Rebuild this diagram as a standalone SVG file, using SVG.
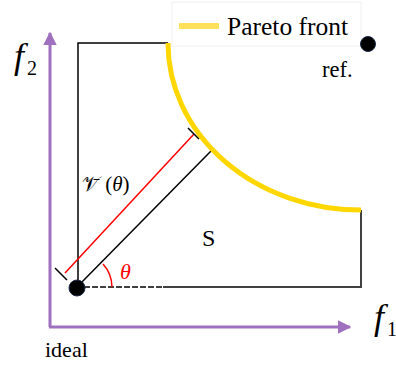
<svg xmlns="http://www.w3.org/2000/svg" width="396" height="366" viewBox="0 0 396 366">
  <defs>
    <style>
      .serif { font-family: "Liberation Serif", "DejaVu Serif", serif; fill: #000; }
      .math { font-family: "Liberation Serif", "DejaVu Serif", serif; font-style: italic; }
      .axis { stroke: #A070C0; stroke-width: 3; fill: none; }
      .box { stroke: #000; stroke-width: 1.5; fill: none; }
      .dot { fill: #000; stroke: #1a2a4a; stroke-width: 1; }
    </style>
    <marker id="arrowP" viewBox="0 0 10 10" refX="9" refY="5" markerWidth="4.5" markerHeight="4.5" orient="auto" markerUnits="strokeWidth">
      <path d="M0,0 L10,5 L0,10 z" fill="#A070C0"/>
    </marker>
  </defs>
  <rect width="396" height="366" fill="#fff"/>

  <g id="connectors">
    <!-- axes -->
    <line class="axis" x1="50" y1="327" x2="50" y2="33" marker-end="url(#arrowP)"/>
    <line class="axis" x1="49" y1="327" x2="350" y2="327" marker-end="url(#arrowP)"/>
    <!-- region boundary -->
    <polyline class="box" points="168,43 78,43 78,287"/>
    <line x1="361" y1="210" x2="361" y2="288" stroke="#000" stroke-width="1.5"/>
    <line x1="163" y1="287" x2="362" y2="287" stroke="#404040" stroke-width="2"/>
    <line x1="84" y1="287" x2="163" y2="287" stroke="#404040" stroke-width="2" stroke-dasharray="6,2"/>
    <!-- direction line -->
    <line x1="77" y1="287" x2="211" y2="151" stroke="#000" stroke-width="1.5"/>
    <!-- red measure line with end ticks -->
    <line x1="65" y1="273" x2="194" y2="134" stroke="#FF0000" stroke-width="1.5"/>
    <line x1="55" y1="268" x2="67" y2="280" stroke="#000" stroke-width="1.5"/>
    <line x1="188" y1="128" x2="199" y2="139" stroke="#000" stroke-width="1.5"/>
    <!-- angle arc -->
    <path d="M112,287 A35,35 0 0,0 103,264" fill="none" stroke="#FF0000" stroke-width="1.5"/>
  </g>

  <g id="pareto-front">
    <path d="M168,43 A193,167 0 0,0 361,210" fill="none" stroke="#FFD700" stroke-width="5"/>
  </g>

  <g id="legend">
    <rect x="172" y="2" width="189" height="44" fill="#fff" stroke="#f0f0f5" stroke-width="1"/>
    <line x1="179" y1="26" x2="219" y2="26" stroke="#FFE15C" stroke-width="6"/>
    <text class="serif" x="227" y="35" font-size="25.5">Pareto front</text>
  </g>

  <g id="ref-point">
    <circle class="dot" cx="368" cy="44" r="7.5"/>
    <text class="serif" x="322" y="77" font-size="22.5">ref.</text>
  </g>

  <g id="ideal-point">
    <circle class="dot" cx="77" cy="288" r="8"/>
    <text class="serif" x="45" y="357" font-size="22">ideal</text>
  </g>

  <g id="labels">
    <text x="14" y="68" font-size="36" class="math">f<tspan font-style="normal" font-size="20" dx="3" dy="7">2</tspan></text>
    <text x="374" y="329" font-size="36" class="math">f<tspan font-style="normal" font-size="20" dx="3" dy="7">1</tspan></text>
    <text class="serif" x="202" y="246" font-size="24">S</text>
    <text x="120" y="279" font-size="22" class="math" fill="#FF0000">θ</text>
    <text x="82" y="191" font-size="21" font-family="Liberation Serif, DejaVu Serif, serif">𝒱̄ (<tspan font-style="italic">θ</tspan>)</text>
  </g>
</svg>
